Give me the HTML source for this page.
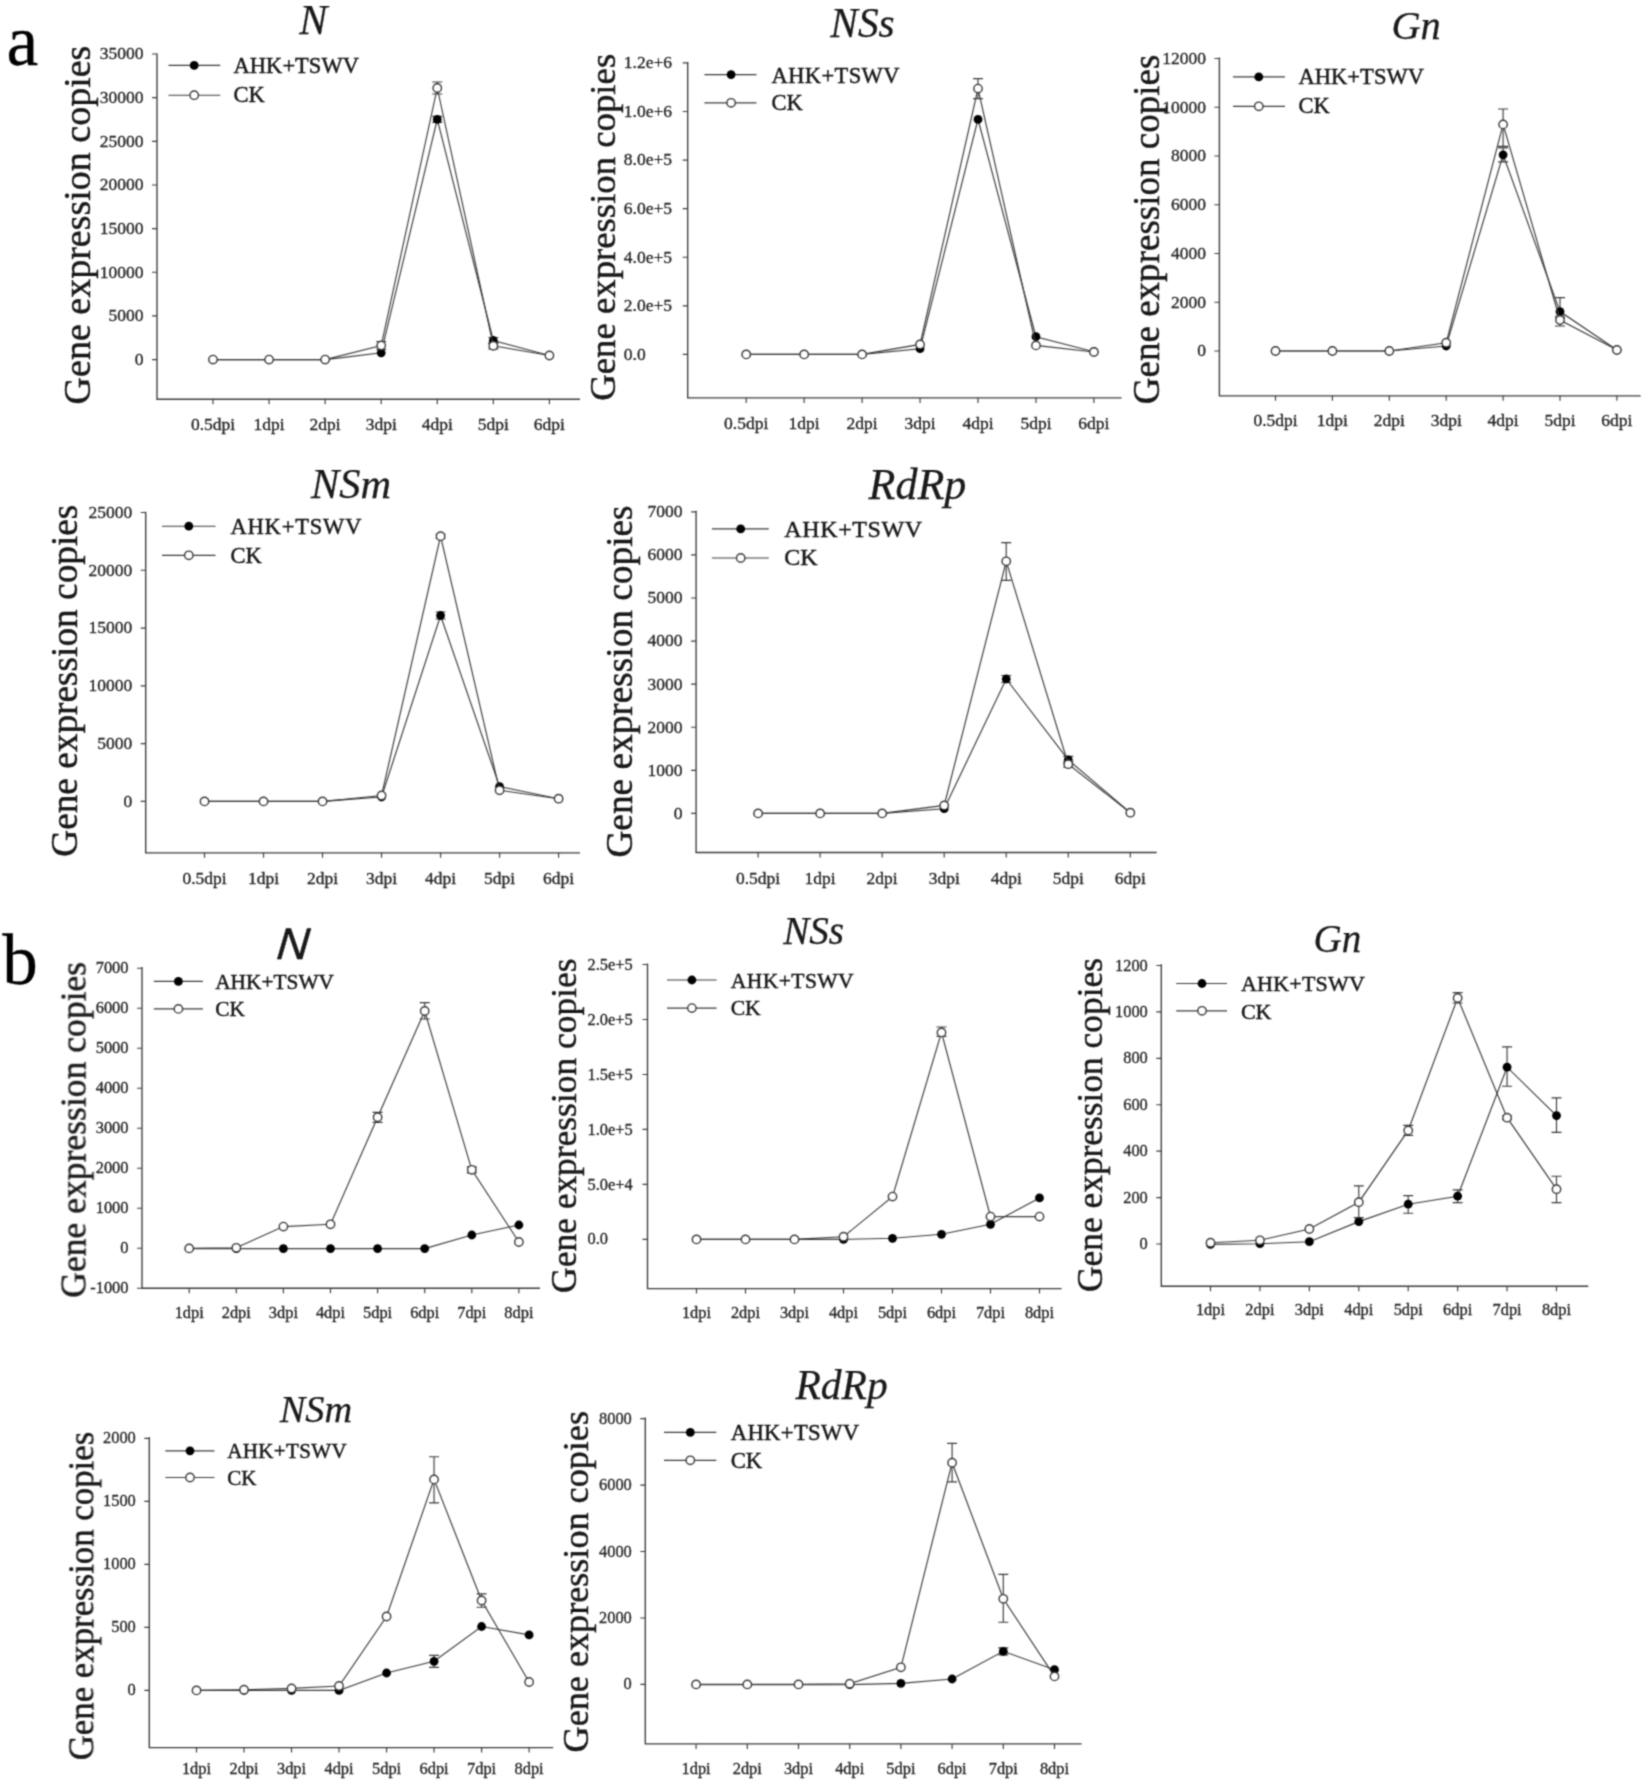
<!DOCTYPE html>
<html lang="en">
<head>
<meta charset="utf-8">
<title>Gene expression copies</title>
<style>
html,body{margin:0;padding:0;background:#fff;}
body{width:1645px;height:1783px;overflow:hidden;}
svg{display:block;font-family:"Liberation Serif",serif;}
</style>
</head>
<body>
<svg width="1645" height="1783" viewBox="0 0 1645 1783">
<rect x="0" y="0" width="1645" height="1783" fill="#fff"/>
<defs><filter id="soft" x="0" y="0" width="1645" height="1783" filterUnits="userSpaceOnUse" color-interpolation-filters="sRGB"><feConvolveMatrix order="3" kernelMatrix="0.0439 0.1217 0.0439 0.1217 0.3377 0.1217 0.0439 0.1217 0.0439" edgeMode="duplicate" preserveAlpha="false"/></filter></defs>
<g id="fig" filter="url(#soft)">
<text x="6.4" y="65.2" font-size="71.5" fill="#000" stroke="#000" stroke-width="0.3">a</text>
<text x="2.2" y="983.6" font-size="71" fill="#000" stroke="#000" stroke-width="0.3">b</text>

<g>
<path d="M157 53.6 V399.2 H580" fill="none" stroke="#3c3c3c" stroke-width="1.3499999999999999"/>
<path d="M157 54 H152 M157 97.66 H152 M157 141.31 H152 M157 184.97 H152 M157 228.63 H152 M157 272.29 H152 M157 315.94 H152 M157 359.6 H152 M213 399.2 V404.2 M269.07 399.2 V404.2 M325.13 399.2 V404.2 M381.2 399.2 V404.2 M437.27 399.2 V404.2 M493.33 399.2 V404.2 M549.4 399.2 V404.2" fill="none" stroke="#3c3c3c" stroke-width="1.15"/>
<g font-size="17.5" fill="#222222" stroke="#222222" stroke-width="0.3" text-anchor="end">
<text x="143.5" y="59.42">35000</text>
<text x="143.5" y="103.08">30000</text>
<text x="143.5" y="146.74">25000</text>
<text x="143.5" y="190.4">20000</text>
<text x="143.5" y="234.05">15000</text>
<text x="143.5" y="277.71">10000</text>
<text x="143.5" y="321.37">5000</text>
<text x="143.5" y="365.03">0</text>
</g>
<g font-size="17.5" fill="#222222" stroke="#222222" stroke-width="0.3" text-anchor="middle">
<text x="213" y="429.8">0.5dpi</text>
<text x="269.07" y="429.8">1dpi</text>
<text x="325.13" y="429.8">2dpi</text>
<text x="381.2" y="429.8">3dpi</text>
<text x="437.27" y="429.8">4dpi</text>
<text x="493.33" y="429.8">5dpi</text>
<text x="549.4" y="429.8">6dpi</text>
</g>
<text x="313.3" y="33.9" font-size="42" font-style="italic" text-anchor="middle" stroke="#000" stroke-width="0.25" fill="#1a1a1a" font-family='"Liberation Serif", serif'>N</text>
<text transform="translate(89.8 225) rotate(-90)" font-size="38" text-anchor="middle" stroke="#000" stroke-width="0.4" fill="#1a1a1a">Gene expression copies</text>
<path d="M168.5 65.4 H220.3 M168.5 95.2 H220.3" fill="none" stroke="#3c3c3c" stroke-width="1.15"/>
<circle cx="194.2" cy="65.4" r="4.4" fill="#000"/>
<circle cx="194.2" cy="95.2" r="4.2" fill="#fff" stroke="#3c3c3c" stroke-width="1.4"/>
<text x="233.6" y="73.1" font-size="22.5" stroke="#000" stroke-width="0.4" fill="#1a1a1a" textLength="125.3" lengthAdjust="spacing">AHK+TSWV</text>
<text x="233.6" y="102.3" font-size="22.5" stroke="#000" stroke-width="0.4" fill="#1a1a1a">CK</text>
<path d="M213 359.6 L269.07 359.6 L325.13 359.6 L381.2 352.8 L437.27 119.4 L493.33 340.5 L549.4 355.5" fill="none" stroke="#3c3c3c" stroke-width="1.15"/>
<path d="M437.27 116.4 V122.4 M432.27 116.4 H442.27 M432.27 122.4 H442.27" fill="none" stroke="#3c3c3c" stroke-width="1.15"/>
<path d="M493.33 337.5 V343.5 M488.33 337.5 H498.33 M488.33 343.5 H498.33" fill="none" stroke="#3c3c3c" stroke-width="1.15"/>
<circle cx="213" cy="359.6" r="4.4" fill="#000"/>
<circle cx="269.07" cy="359.6" r="4.4" fill="#000"/>
<circle cx="325.13" cy="359.6" r="4.4" fill="#000"/>
<circle cx="381.2" cy="352.8" r="4.4" fill="#000"/>
<circle cx="437.27" cy="119.4" r="4.4" fill="#000"/>
<circle cx="493.33" cy="340.5" r="4.4" fill="#000"/>
<circle cx="549.4" cy="355.5" r="4.4" fill="#000"/>
<path d="M213 359.6 L269.07 359.6 L325.13 359.6 L381.2 345.5 L437.27 88 L493.33 345.8 L549.4 355.5" fill="none" stroke="#3c3c3c" stroke-width="1.15"/>
<path d="M381.2 341.5 V349.5 M376.2 341.5 H386.2 M376.2 349.5 H386.2" fill="none" stroke="#3c3c3c" stroke-width="1.15"/>
<path d="M437.27 82 V94 M432.27 82 H442.27 M432.27 94 H442.27" fill="none" stroke="#3c3c3c" stroke-width="1.15"/>
<path d="M493.33 342.8 V348.8 M488.33 342.8 H498.33 M488.33 348.8 H498.33" fill="none" stroke="#3c3c3c" stroke-width="1.15"/>
<circle cx="213" cy="359.6" r="4.2" fill="#fff" stroke="#3c3c3c" stroke-width="1.4"/>
<circle cx="269.07" cy="359.6" r="4.2" fill="#fff" stroke="#3c3c3c" stroke-width="1.4"/>
<circle cx="325.13" cy="359.6" r="4.2" fill="#fff" stroke="#3c3c3c" stroke-width="1.4"/>
<circle cx="381.2" cy="345.5" r="4.2" fill="#fff" stroke="#3c3c3c" stroke-width="1.4"/>
<circle cx="437.27" cy="88" r="4.2" fill="#fff" stroke="#3c3c3c" stroke-width="1.4"/>
<circle cx="493.33" cy="345.8" r="4.2" fill="#fff" stroke="#3c3c3c" stroke-width="1.4"/>
<circle cx="549.4" cy="355.5" r="4.2" fill="#fff" stroke="#3c3c3c" stroke-width="1.4"/>
</g>
<g>
<path d="M687.7 61.9 V397.9 H1121.6" fill="none" stroke="#3c3c3c" stroke-width="1.3499999999999999"/>
<path d="M687.7 62.9 H682.7 M687.7 111.48 H682.7 M687.7 160.07 H682.7 M687.7 208.65 H682.7 M687.7 257.23 H682.7 M687.7 305.82 H682.7 M687.7 354.4 H682.7 M746.2 397.9 V402.9 M804.15 397.9 V402.9 M862.1 397.9 V402.9 M920.05 397.9 V402.9 M978 397.9 V402.9 M1035.95 397.9 V402.9 M1093.9 397.9 V402.9" fill="none" stroke="#3c3c3c" stroke-width="1.15"/>
<g font-size="17.5" fill="#222222" stroke="#222222" stroke-width="0.3" text-anchor="start">
<text x="623.8" y="68.33">1.2e+6</text>
<text x="623.8" y="116.91">1.0e+6</text>
<text x="623.8" y="165.49">8.0e+5</text>
<text x="623.8" y="214.08">6.0e+5</text>
<text x="623.8" y="262.66">4.0e+5</text>
<text x="623.8" y="311.24">2.0e+5</text>
<text x="623.8" y="359.82">0.0</text>
</g>
<g font-size="17.5" fill="#222222" stroke="#222222" stroke-width="0.3" text-anchor="middle">
<text x="746.2" y="428.5">0.5dpi</text>
<text x="804.15" y="428.5">1dpi</text>
<text x="862.1" y="428.5">2dpi</text>
<text x="920.05" y="428.5">3dpi</text>
<text x="978" y="428.5">4dpi</text>
<text x="1035.95" y="428.5">5dpi</text>
<text x="1093.9" y="428.5">6dpi</text>
</g>
<text x="862.5" y="37.2" font-size="41.3" font-style="italic" text-anchor="middle" stroke="#000" stroke-width="0.25" fill="#1a1a1a" font-family='"Liberation Serif", serif'>NSs</text>
<text transform="translate(614.6 227.3) rotate(-90)" font-size="36.75" text-anchor="middle" stroke="#000" stroke-width="0.4" fill="#1a1a1a">Gene expression copies</text>
<path d="M704.4 74.6 H756.5 M704.4 102.8 H756.5" fill="none" stroke="#3c3c3c" stroke-width="1.15"/>
<circle cx="731.1" cy="74.6" r="4.4" fill="#000"/>
<circle cx="731.1" cy="102.8" r="4.2" fill="#fff" stroke="#3c3c3c" stroke-width="1.4"/>
<text x="771.6" y="82.6" font-size="22.5" stroke="#000" stroke-width="0.4" fill="#1a1a1a" textLength="127.9" lengthAdjust="spacing">AHK+TSWV</text>
<text x="771.6" y="110.3" font-size="22.5" stroke="#000" stroke-width="0.4" fill="#1a1a1a">CK</text>
<path d="M746.2 354.4 L804.15 354.4 L862.1 354.4 L920.05 348.7 L978 119.4 L1035.95 336.7 L1093.9 351.7" fill="none" stroke="#3c3c3c" stroke-width="1.15"/>
<circle cx="746.2" cy="354.4" r="4.4" fill="#000"/>
<circle cx="804.15" cy="354.4" r="4.4" fill="#000"/>
<circle cx="862.1" cy="354.4" r="4.4" fill="#000"/>
<circle cx="920.05" cy="348.7" r="4.4" fill="#000"/>
<circle cx="978" cy="119.4" r="4.4" fill="#000"/>
<circle cx="1035.95" cy="336.7" r="4.4" fill="#000"/>
<circle cx="1093.9" cy="351.7" r="4.4" fill="#000"/>
<path d="M746.2 354.4 L804.15 354.4 L862.1 354.4 L920.05 344.4 L978 88.6 L1035.95 345.4 L1093.9 352" fill="none" stroke="#3c3c3c" stroke-width="1.15"/>
<path d="M978 78.6 V98.6 M973 78.6 H983 M973 98.6 H983" fill="none" stroke="#3c3c3c" stroke-width="1.15"/>
<circle cx="746.2" cy="354.4" r="4.2" fill="#fff" stroke="#3c3c3c" stroke-width="1.4"/>
<circle cx="804.15" cy="354.4" r="4.2" fill="#fff" stroke="#3c3c3c" stroke-width="1.4"/>
<circle cx="862.1" cy="354.4" r="4.2" fill="#fff" stroke="#3c3c3c" stroke-width="1.4"/>
<circle cx="920.05" cy="344.4" r="4.2" fill="#fff" stroke="#3c3c3c" stroke-width="1.4"/>
<circle cx="978" cy="88.6" r="4.2" fill="#fff" stroke="#3c3c3c" stroke-width="1.4"/>
<circle cx="1035.95" cy="345.4" r="4.2" fill="#fff" stroke="#3c3c3c" stroke-width="1.4"/>
<circle cx="1093.9" cy="352" r="4.2" fill="#fff" stroke="#3c3c3c" stroke-width="1.4"/>
</g>
<g>
<path d="M1219.4 57.5 V395.8 H1640.7" fill="none" stroke="#3c3c3c" stroke-width="1.3499999999999999"/>
<path d="M1219.4 58.5 H1214.4 M1219.4 107.25 H1214.4 M1219.4 156 H1214.4 M1219.4 204.75 H1214.4 M1219.4 253.5 H1214.4 M1219.4 302.25 H1214.4 M1219.4 351 H1214.4 M1275.5 395.8 V400.8 M1332.4 395.8 V400.8 M1389.3 395.8 V400.8 M1446.2 395.8 V400.8 M1503.1 395.8 V400.8 M1560 395.8 V400.8 M1616.9 395.8 V400.8" fill="none" stroke="#3c3c3c" stroke-width="1.15"/>
<g font-size="17.5" fill="#222222" stroke="#222222" stroke-width="0.3" text-anchor="end">
<text x="1205.9" y="63.92">12000</text>
<text x="1205.9" y="112.67">10000</text>
<text x="1205.9" y="161.43">8000</text>
<text x="1205.9" y="210.18">6000</text>
<text x="1205.9" y="258.93">4000</text>
<text x="1205.9" y="307.68">2000</text>
<text x="1205.9" y="356.43">0</text>
</g>
<g font-size="17.5" fill="#222222" stroke="#222222" stroke-width="0.3" text-anchor="middle">
<text x="1275.5" y="426">0.5dpi</text>
<text x="1332.4" y="426">1dpi</text>
<text x="1389.3" y="426">2dpi</text>
<text x="1446.2" y="426">3dpi</text>
<text x="1503.1" y="426">4dpi</text>
<text x="1560" y="426">5dpi</text>
<text x="1616.9" y="426">6dpi</text>
</g>
<text x="1416" y="39.2" font-size="40.3" font-style="italic" text-anchor="middle" stroke="#000" stroke-width="0.25" fill="#1a1a1a" font-family='"Liberation Serif", serif'>Gn</text>
<text transform="translate(1158.6 229.4) rotate(-90)" font-size="37.06" text-anchor="middle" stroke="#000" stroke-width="0.4" fill="#1a1a1a">Gene expression copies</text>
<path d="M1233 76.9 H1285 M1233 106.3 H1285" fill="none" stroke="#3c3c3c" stroke-width="1.15"/>
<circle cx="1258.8" cy="76.9" r="4.4" fill="#000"/>
<circle cx="1258.8" cy="106.3" r="4.2" fill="#fff" stroke="#3c3c3c" stroke-width="1.4"/>
<text x="1298.5" y="84" font-size="22.5" stroke="#000" stroke-width="0.4" fill="#1a1a1a" textLength="125.5" lengthAdjust="spacing">AHK+TSWV</text>
<text x="1298.5" y="113" font-size="22.5" stroke="#000" stroke-width="0.4" fill="#1a1a1a">CK</text>
<path d="M1275.5 351 L1332.4 351 L1389.3 351 L1446.2 346 L1503.1 154.8 L1560 311.6 L1616.9 350" fill="none" stroke="#3c3c3c" stroke-width="1.15"/>
<path d="M1503.1 147.8 V161.8 M1498.1 147.8 H1508.1 M1498.1 161.8 H1508.1" fill="none" stroke="#3c3c3c" stroke-width="1.15"/>
<path d="M1560 297.6 V317.6 M1555 297.6 H1565 M1555 317.6 H1565" fill="none" stroke="#3c3c3c" stroke-width="1.15"/>
<circle cx="1275.5" cy="351" r="4.4" fill="#000"/>
<circle cx="1332.4" cy="351" r="4.4" fill="#000"/>
<circle cx="1389.3" cy="351" r="4.4" fill="#000"/>
<circle cx="1446.2" cy="346" r="4.4" fill="#000"/>
<circle cx="1503.1" cy="154.8" r="4.4" fill="#000"/>
<circle cx="1560" cy="311.6" r="4.4" fill="#000"/>
<circle cx="1616.9" cy="350" r="4.4" fill="#000"/>
<path d="M1275.5 351 L1332.4 351 L1389.3 351 L1446.2 342.7 L1503.1 124.4 L1560 320 L1616.9 350" fill="none" stroke="#3c3c3c" stroke-width="1.15"/>
<path d="M1503.1 109 V146.4 M1498.1 109 H1508.1 M1498.1 146.4 H1508.1" fill="none" stroke="#3c3c3c" stroke-width="1.15"/>
<path d="M1560 316 V326 M1555 316 H1565 M1555 326 H1565" fill="none" stroke="#3c3c3c" stroke-width="1.15"/>
<circle cx="1275.5" cy="351" r="4.2" fill="#fff" stroke="#3c3c3c" stroke-width="1.4"/>
<circle cx="1332.4" cy="351" r="4.2" fill="#fff" stroke="#3c3c3c" stroke-width="1.4"/>
<circle cx="1389.3" cy="351" r="4.2" fill="#fff" stroke="#3c3c3c" stroke-width="1.4"/>
<circle cx="1446.2" cy="342.7" r="4.2" fill="#fff" stroke="#3c3c3c" stroke-width="1.4"/>
<circle cx="1503.1" cy="124.4" r="4.2" fill="#fff" stroke="#3c3c3c" stroke-width="1.4"/>
<circle cx="1560" cy="320" r="4.2" fill="#fff" stroke="#3c3c3c" stroke-width="1.4"/>
<circle cx="1616.9" cy="350" r="4.2" fill="#fff" stroke="#3c3c3c" stroke-width="1.4"/>
</g>
<g>
<path d="M145.7 511.8 V852.8 H580" fill="none" stroke="#3c3c3c" stroke-width="1.3499999999999999"/>
<path d="M145.7 512.5 H140.7 M145.7 570.28 H140.7 M145.7 628.06 H140.7 M145.7 685.84 H140.7 M145.7 743.62 H140.7 M145.7 801.4 H140.7 M204.5 852.8 V857.8 M263.52 852.8 V857.8 M322.53 852.8 V857.8 M381.55 852.8 V857.8 M440.57 852.8 V857.8 M499.58 852.8 V857.8 M558.6 852.8 V857.8" fill="none" stroke="#3c3c3c" stroke-width="1.15"/>
<g font-size="17.5" fill="#222222" stroke="#222222" stroke-width="0.3" text-anchor="end">
<text x="132.2" y="517.92">25000</text>
<text x="132.2" y="575.7">20000</text>
<text x="132.2" y="633.48">15000</text>
<text x="132.2" y="691.26">10000</text>
<text x="132.2" y="749.04">5000</text>
<text x="132.2" y="806.82">0</text>
</g>
<g font-size="17.5" fill="#222222" stroke="#222222" stroke-width="0.3" text-anchor="middle">
<text x="204.5" y="884">0.5dpi</text>
<text x="263.52" y="884">1dpi</text>
<text x="322.53" y="884">2dpi</text>
<text x="381.55" y="884">3dpi</text>
<text x="440.57" y="884">4dpi</text>
<text x="499.58" y="884">5dpi</text>
<text x="558.6" y="884">6dpi</text>
</g>
<text x="351" y="498.4" font-size="42.3" font-style="italic" text-anchor="middle" stroke="#000" stroke-width="0.25" fill="#1a1a1a" font-family='"Liberation Serif", serif'>NSm</text>
<text transform="translate(76.6 680.7) rotate(-90)" font-size="37.3" text-anchor="middle" stroke="#000" stroke-width="0.4" fill="#1a1a1a">Gene expression copies</text>
<path d="M162 526.2 H215.5 M162 555.3 H215.5" fill="none" stroke="#3c3c3c" stroke-width="1.15"/>
<circle cx="188.8" cy="526.2" r="4.4" fill="#000"/>
<circle cx="188.8" cy="555.3" r="4.2" fill="#fff" stroke="#3c3c3c" stroke-width="1.4"/>
<text x="230.4" y="533.8" font-size="22.5" stroke="#000" stroke-width="0.4" fill="#1a1a1a" textLength="131" lengthAdjust="spacing">AHK+TSWV</text>
<text x="230.4" y="563" font-size="22.5" stroke="#000" stroke-width="0.4" fill="#1a1a1a">CK</text>
<path d="M204.5 801.4 L263.52 801.4 L322.53 801.4 L381.55 797 L440.57 615.5 L499.58 786.6 L558.6 798.7" fill="none" stroke="#3c3c3c" stroke-width="1.15"/>
<path d="M440.57 612 V619 M435.57 612 H445.57 M435.57 619 H445.57" fill="none" stroke="#3c3c3c" stroke-width="1.15"/>
<circle cx="204.5" cy="801.4" r="4.4" fill="#000"/>
<circle cx="263.52" cy="801.4" r="4.4" fill="#000"/>
<circle cx="322.53" cy="801.4" r="4.4" fill="#000"/>
<circle cx="381.55" cy="797" r="4.4" fill="#000"/>
<circle cx="440.57" cy="615.5" r="4.4" fill="#000"/>
<circle cx="499.58" cy="786.6" r="4.4" fill="#000"/>
<circle cx="558.6" cy="798.7" r="4.4" fill="#000"/>
<path d="M204.5 801.4 L263.52 801.4 L322.53 801.4 L381.55 795.5 L440.57 536.2 L499.58 790.3 L558.6 798.7" fill="none" stroke="#3c3c3c" stroke-width="1.15"/>
<path d="M440.57 534.2 V538.2 M435.57 534.2 H445.57 M435.57 538.2 H445.57" fill="none" stroke="#3c3c3c" stroke-width="1.15"/>
<circle cx="204.5" cy="801.4" r="4.2" fill="#fff" stroke="#3c3c3c" stroke-width="1.4"/>
<circle cx="263.52" cy="801.4" r="4.2" fill="#fff" stroke="#3c3c3c" stroke-width="1.4"/>
<circle cx="322.53" cy="801.4" r="4.2" fill="#fff" stroke="#3c3c3c" stroke-width="1.4"/>
<circle cx="381.55" cy="795.5" r="4.2" fill="#fff" stroke="#3c3c3c" stroke-width="1.4"/>
<circle cx="440.57" cy="536.2" r="4.2" fill="#fff" stroke="#3c3c3c" stroke-width="1.4"/>
<circle cx="499.58" cy="790.3" r="4.2" fill="#fff" stroke="#3c3c3c" stroke-width="1.4"/>
<circle cx="558.6" cy="798.7" r="4.2" fill="#fff" stroke="#3c3c3c" stroke-width="1.4"/>
</g>
<g>
<path d="M696.1 510.8 V852.5 H1156.7" fill="none" stroke="#3c3c3c" stroke-width="1.3499999999999999"/>
<path d="M696.1 511.8 H691.1 M696.1 554.89 H691.1 M696.1 597.97 H691.1 M696.1 641.06 H691.1 M696.1 684.14 H691.1 M696.1 727.23 H691.1 M696.1 770.31 H691.1 M696.1 813.4 H691.1 M758.1 852.5 V857.5 M820.13 852.5 V857.5 M882.17 852.5 V857.5 M944.2 852.5 V857.5 M1006.23 852.5 V857.5 M1068.27 852.5 V857.5 M1130.3 852.5 V857.5" fill="none" stroke="#3c3c3c" stroke-width="1.15"/>
<g font-size="17.5" fill="#222222" stroke="#222222" stroke-width="0.3" text-anchor="end">
<text x="682.6" y="517.23">7000</text>
<text x="682.6" y="560.31">6000</text>
<text x="682.6" y="603.4">5000</text>
<text x="682.6" y="646.48">4000</text>
<text x="682.6" y="689.57">3000</text>
<text x="682.6" y="732.65">2000</text>
<text x="682.6" y="775.74">1000</text>
<text x="682.6" y="818.82">0</text>
</g>
<g font-size="17.5" fill="#222222" stroke="#222222" stroke-width="0.3" text-anchor="middle">
<text x="758.1" y="884">0.5dpi</text>
<text x="820.13" y="884">1dpi</text>
<text x="882.17" y="884">2dpi</text>
<text x="944.2" y="884">3dpi</text>
<text x="1006.23" y="884">4dpi</text>
<text x="1068.27" y="884">5dpi</text>
<text x="1130.3" y="884">6dpi</text>
</g>
<text x="917.5" y="498.8" font-size="44" font-style="italic" text-anchor="middle" stroke="#000" stroke-width="0.25" fill="#1a1a1a" font-family='"Liberation Serif", serif'>RdRp</text>
<text transform="translate(631.6 681.5) rotate(-90)" font-size="37.3" text-anchor="middle" stroke="#000" stroke-width="0.4" fill="#1a1a1a">Gene expression copies</text>
<path d="M711.9 528.9 H768.8 M711.9 558 H768.8" fill="none" stroke="#3c3c3c" stroke-width="1.15"/>
<circle cx="740.7" cy="528.9" r="4.4" fill="#000"/>
<circle cx="740.7" cy="558" r="4.2" fill="#fff" stroke="#3c3c3c" stroke-width="1.4"/>
<text x="784.3" y="537.1" font-size="24" stroke="#000" stroke-width="0.4" fill="#1a1a1a" textLength="137.9" lengthAdjust="spacing">AHK+TSWV</text>
<text x="784.3" y="565.3" font-size="24" stroke="#000" stroke-width="0.4" fill="#1a1a1a">CK</text>
<path d="M758.1 813.4 L820.13 813.4 L882.17 813.4 L944.2 808.7 L1006.23 679 L1068.27 759.9 L1130.3 812.7" fill="none" stroke="#3c3c3c" stroke-width="1.15"/>
<path d="M1006.23 675.5 V682.5 M1001.23 675.5 H1011.23 M1001.23 682.5 H1011.23" fill="none" stroke="#3c3c3c" stroke-width="1.15"/>
<path d="M1068.27 756.4 V763.4 M1063.27 756.4 H1073.27 M1063.27 763.4 H1073.27" fill="none" stroke="#3c3c3c" stroke-width="1.15"/>
<circle cx="758.1" cy="813.4" r="4.4" fill="#000"/>
<circle cx="820.13" cy="813.4" r="4.4" fill="#000"/>
<circle cx="882.17" cy="813.4" r="4.4" fill="#000"/>
<circle cx="944.2" cy="808.7" r="4.4" fill="#000"/>
<circle cx="1006.23" cy="679" r="4.4" fill="#000"/>
<circle cx="1068.27" cy="759.9" r="4.4" fill="#000"/>
<circle cx="1130.3" cy="812.7" r="4.4" fill="#000"/>
<path d="M758.1 813.4 L820.13 813.4 L882.17 813.4 L944.2 805.4 L1006.23 561.3 L1068.27 764.2 L1130.3 812.7" fill="none" stroke="#3c3c3c" stroke-width="1.15"/>
<path d="M1006.23 542.6 V580.3 M1001.23 542.6 H1011.23 M1001.23 580.3 H1011.23" fill="none" stroke="#3c3c3c" stroke-width="1.15"/>
<path d="M1068.27 761.2 V767.2 M1063.27 761.2 H1073.27 M1063.27 767.2 H1073.27" fill="none" stroke="#3c3c3c" stroke-width="1.15"/>
<circle cx="758.1" cy="813.4" r="4.2" fill="#fff" stroke="#3c3c3c" stroke-width="1.4"/>
<circle cx="820.13" cy="813.4" r="4.2" fill="#fff" stroke="#3c3c3c" stroke-width="1.4"/>
<circle cx="882.17" cy="813.4" r="4.2" fill="#fff" stroke="#3c3c3c" stroke-width="1.4"/>
<circle cx="944.2" cy="805.4" r="4.2" fill="#fff" stroke="#3c3c3c" stroke-width="1.4"/>
<circle cx="1006.23" cy="561.3" r="4.2" fill="#fff" stroke="#3c3c3c" stroke-width="1.4"/>
<circle cx="1068.27" cy="764.2" r="4.2" fill="#fff" stroke="#3c3c3c" stroke-width="1.4"/>
<circle cx="1130.3" cy="812.7" r="4.2" fill="#fff" stroke="#3c3c3c" stroke-width="1.4"/>
</g>
<g>
<path d="M142 966.9 V1288.2 H540" fill="none" stroke="#3c3c3c" stroke-width="1.3499999999999999"/>
<path d="M142 968.2 H137 M142 1008.2 H137 M142 1048.2 H137 M142 1088.2 H137 M142 1128.2 H137 M142 1168.2 H137 M142 1208.2 H137 M142 1248.2 H137 M142 1288.2 H137 M189.2 1288.2 V1293.2 M236.3 1288.2 V1293.2 M283.4 1288.2 V1293.2 M330.5 1288.2 V1293.2 M377.6 1288.2 V1293.2 M424.7 1288.2 V1293.2 M471.8 1288.2 V1293.2 M518.9 1288.2 V1293.2" fill="none" stroke="#3c3c3c" stroke-width="1.15"/>
<g font-size="16.4" fill="#222222" stroke="#222222" stroke-width="0.3" text-anchor="end">
<text x="128.5" y="973.28">7000</text>
<text x="128.5" y="1013.28">6000</text>
<text x="128.5" y="1053.28">5000</text>
<text x="128.5" y="1093.28">4000</text>
<text x="128.5" y="1133.28">3000</text>
<text x="128.5" y="1173.28">2000</text>
<text x="128.5" y="1213.28">1000</text>
<text x="128.5" y="1253.28">0</text>
<text x="128.5" y="1293.28">-1000</text>
</g>
<g font-size="16.4" fill="#222222" stroke="#222222" stroke-width="0.3" text-anchor="middle">
<text x="189.2" y="1318">1dpi</text>
<text x="236.3" y="1318">2dpi</text>
<text x="283.4" y="1318">3dpi</text>
<text x="330.5" y="1318">4dpi</text>
<text x="377.6" y="1318">5dpi</text>
<text x="424.7" y="1318">6dpi</text>
<text x="471.8" y="1318">7dpi</text>
<text x="518.9" y="1318">8dpi</text>
</g>
<text transform="translate(291.9 959.3) skewX(-5.5)" x="0" y="0" font-size="44.3" font-style="italic" text-anchor="middle" stroke="#000" stroke-width="0.5" fill="#1a1a1a" font-family='"Liberation Sans", sans-serif'>N</text>
<text transform="translate(85.5 1129.8) rotate(-90)" font-size="35.6" text-anchor="middle" stroke="#000" stroke-width="0.4" fill="#1a1a1a">Gene expression copies</text>
<path d="M153.8 981.4 H202.9 M153.8 1008.9 H202.9" fill="none" stroke="#3c3c3c" stroke-width="1.15"/>
<circle cx="178.4" cy="981.4" r="4.4" fill="#000"/>
<circle cx="178.4" cy="1008.9" r="4.2" fill="#fff" stroke="#3c3c3c" stroke-width="1.4"/>
<text x="215.2" y="989" font-size="21.3" stroke="#000" stroke-width="0.4" fill="#1a1a1a" textLength="118.8" lengthAdjust="spacing">AHK+TSWV</text>
<text x="215.2" y="1015.9" font-size="21.3" stroke="#000" stroke-width="0.4" fill="#1a1a1a">CK</text>
<path d="M189.2 1248.6 L236.3 1248.6 L283.4 1248.6 L330.5 1248.6 L377.6 1248.6 L424.7 1248.6 L471.8 1235 L518.9 1225" fill="none" stroke="#3c3c3c" stroke-width="1.15"/>
<circle cx="189.2" cy="1248.6" r="4.4" fill="#000"/>
<circle cx="236.3" cy="1248.6" r="4.4" fill="#000"/>
<circle cx="283.4" cy="1248.6" r="4.4" fill="#000"/>
<circle cx="330.5" cy="1248.6" r="4.4" fill="#000"/>
<circle cx="377.6" cy="1248.6" r="4.4" fill="#000"/>
<circle cx="424.7" cy="1248.6" r="4.4" fill="#000"/>
<circle cx="471.8" cy="1235" r="4.4" fill="#000"/>
<circle cx="518.9" cy="1225" r="4.4" fill="#000"/>
<path d="M189.2 1248.4 L236.3 1247.8 L283.4 1226.6 L330.5 1224.3 L377.6 1117.3 L424.7 1011 L471.8 1169.8 L518.9 1242" fill="none" stroke="#3c3c3c" stroke-width="1.15"/>
<path d="M377.6 1112.3 V1122.3 M372.6 1112.3 H382.6 M372.6 1122.3 H382.6" fill="none" stroke="#3c3c3c" stroke-width="1.15"/>
<path d="M424.7 1002.6 V1019 M419.7 1002.6 H429.7 M419.7 1019 H429.7" fill="none" stroke="#3c3c3c" stroke-width="1.15"/>
<path d="M471.8 1166.8 V1172.8 M466.8 1166.8 H476.8 M466.8 1172.8 H476.8" fill="none" stroke="#3c3c3c" stroke-width="1.15"/>
<circle cx="189.2" cy="1248.4" r="4.2" fill="#fff" stroke="#3c3c3c" stroke-width="1.4"/>
<circle cx="236.3" cy="1247.8" r="4.2" fill="#fff" stroke="#3c3c3c" stroke-width="1.4"/>
<circle cx="283.4" cy="1226.6" r="4.2" fill="#fff" stroke="#3c3c3c" stroke-width="1.4"/>
<circle cx="330.5" cy="1224.3" r="4.2" fill="#fff" stroke="#3c3c3c" stroke-width="1.4"/>
<circle cx="377.6" cy="1117.3" r="4.2" fill="#fff" stroke="#3c3c3c" stroke-width="1.4"/>
<circle cx="424.7" cy="1011" r="4.2" fill="#fff" stroke="#3c3c3c" stroke-width="1.4"/>
<circle cx="471.8" cy="1169.8" r="4.2" fill="#fff" stroke="#3c3c3c" stroke-width="1.4"/>
<circle cx="518.9" cy="1242" r="4.2" fill="#fff" stroke="#3c3c3c" stroke-width="1.4"/>
</g>
<g>
<path d="M647.5 963.5 V1288.6 H1061.6" fill="none" stroke="#3c3c3c" stroke-width="1.3499999999999999"/>
<path d="M647.5 964.5 H642.5 M647.5 1019.48 H642.5 M647.5 1074.46 H642.5 M647.5 1129.44 H642.5 M647.5 1184.42 H642.5 M647.5 1239.4 H642.5 M696.5 1288.6 V1293.6 M745.5 1288.6 V1293.6 M794.5 1288.6 V1293.6 M843.5 1288.6 V1293.6 M892.5 1288.6 V1293.6 M941.5 1288.6 V1293.6 M990.5 1288.6 V1293.6 M1039.5 1288.6 V1293.6" fill="none" stroke="#3c3c3c" stroke-width="1.15"/>
<g font-size="16.4" fill="#222222" stroke="#222222" stroke-width="0.3" text-anchor="start">
<text x="587.5" y="969.58">2.5e+5</text>
<text x="587.5" y="1024.56">2.0e+5</text>
<text x="587.5" y="1079.54">1.5e+5</text>
<text x="587.5" y="1134.52">1.0e+5</text>
<text x="587.5" y="1189.5">5.0e+4</text>
<text x="587.5" y="1244.48">0.0</text>
</g>
<g font-size="16.4" fill="#222222" stroke="#222222" stroke-width="0.3" text-anchor="middle">
<text x="696.5" y="1318">1dpi</text>
<text x="745.5" y="1318">2dpi</text>
<text x="794.5" y="1318">3dpi</text>
<text x="843.5" y="1318">4dpi</text>
<text x="892.5" y="1318">5dpi</text>
<text x="941.5" y="1318">6dpi</text>
<text x="990.5" y="1318">7dpi</text>
<text x="1039.5" y="1318">8dpi</text>
</g>
<text x="813.7" y="944.3" font-size="39" font-style="italic" text-anchor="middle" stroke="#000" stroke-width="0.25" fill="#1a1a1a" font-family='"Liberation Serif", serif'>NSs</text>
<text transform="translate(576 1125.7) rotate(-90)" font-size="35.44" text-anchor="middle" stroke="#000" stroke-width="0.4" fill="#1a1a1a">Gene expression copies</text>
<path d="M667 980 H716.6 M667 1008.1 H716.6" fill="none" stroke="#3c3c3c" stroke-width="1.15"/>
<circle cx="691.9" cy="980" r="4.4" fill="#000"/>
<circle cx="691.9" cy="1008.1" r="4.2" fill="#fff" stroke="#3c3c3c" stroke-width="1.4"/>
<text x="730.7" y="987.5" font-size="21.6" stroke="#000" stroke-width="0.4" fill="#1a1a1a" textLength="123" lengthAdjust="spacing">AHK+TSWV</text>
<text x="730.7" y="1015.4" font-size="21.6" stroke="#000" stroke-width="0.4" fill="#1a1a1a">CK</text>
<path d="M696.5 1239.4 L745.5 1239.4 L794.5 1239.4 L843.5 1239.4 L892.5 1238.3 L941.5 1234.3 L990.5 1224.3 L1039.5 1197.9" fill="none" stroke="#3c3c3c" stroke-width="1.15"/>
<circle cx="696.5" cy="1239.4" r="4.4" fill="#000"/>
<circle cx="745.5" cy="1239.4" r="4.4" fill="#000"/>
<circle cx="794.5" cy="1239.4" r="4.4" fill="#000"/>
<circle cx="843.5" cy="1239.4" r="4.4" fill="#000"/>
<circle cx="892.5" cy="1238.3" r="4.4" fill="#000"/>
<circle cx="941.5" cy="1234.3" r="4.4" fill="#000"/>
<circle cx="990.5" cy="1224.3" r="4.4" fill="#000"/>
<circle cx="1039.5" cy="1197.9" r="4.4" fill="#000"/>
<path d="M696.5 1239.4 L745.5 1239.4 L794.5 1239.4 L843.5 1236.7 L892.5 1196.6 L941.5 1032.4 L990.5 1216.6 L1039.5 1216.6" fill="none" stroke="#3c3c3c" stroke-width="1.15"/>
<path d="M941.5 1027 V1036.4 M936.5 1027 H946.5 M936.5 1036.4 H946.5" fill="none" stroke="#3c3c3c" stroke-width="1.15"/>
<circle cx="696.5" cy="1239.4" r="4.2" fill="#fff" stroke="#3c3c3c" stroke-width="1.4"/>
<circle cx="745.5" cy="1239.4" r="4.2" fill="#fff" stroke="#3c3c3c" stroke-width="1.4"/>
<circle cx="794.5" cy="1239.4" r="4.2" fill="#fff" stroke="#3c3c3c" stroke-width="1.4"/>
<circle cx="843.5" cy="1236.7" r="4.2" fill="#fff" stroke="#3c3c3c" stroke-width="1.4"/>
<circle cx="892.5" cy="1196.6" r="4.2" fill="#fff" stroke="#3c3c3c" stroke-width="1.4"/>
<circle cx="941.5" cy="1032.4" r="4.2" fill="#fff" stroke="#3c3c3c" stroke-width="1.4"/>
<circle cx="990.5" cy="1216.6" r="4.2" fill="#fff" stroke="#3c3c3c" stroke-width="1.4"/>
<circle cx="1039.5" cy="1216.6" r="4.2" fill="#fff" stroke="#3c3c3c" stroke-width="1.4"/>
</g>
<g>
<path d="M1161.3 964.2 V1286.2 H1588.3" fill="none" stroke="#3c3c3c" stroke-width="1.3499999999999999"/>
<path d="M1161.3 965.5 H1156.3 M1161.3 1011.92 H1156.3 M1161.3 1058.33 H1156.3 M1161.3 1104.75 H1156.3 M1161.3 1151.17 H1156.3 M1161.3 1197.58 H1156.3 M1161.3 1244 H1156.3 M1210.5 1286.2 V1291.2 M1259.93 1286.2 V1291.2 M1309.36 1286.2 V1291.2 M1358.79 1286.2 V1291.2 M1408.21 1286.2 V1291.2 M1457.64 1286.2 V1291.2 M1507.07 1286.2 V1291.2 M1556.5 1286.2 V1291.2" fill="none" stroke="#3c3c3c" stroke-width="1.15"/>
<g font-size="16.4" fill="#222222" stroke="#222222" stroke-width="0.3" text-anchor="end">
<text x="1147.8" y="970.58">1200</text>
<text x="1147.8" y="1017">1000</text>
<text x="1147.8" y="1063.42">800</text>
<text x="1147.8" y="1109.83">600</text>
<text x="1147.8" y="1156.25">400</text>
<text x="1147.8" y="1202.67">200</text>
<text x="1147.8" y="1249.08">0</text>
</g>
<g font-size="16.4" fill="#222222" stroke="#222222" stroke-width="0.3" text-anchor="middle">
<text x="1210.5" y="1314.6">1dpi</text>
<text x="1259.93" y="1314.6">2dpi</text>
<text x="1309.36" y="1314.6">3dpi</text>
<text x="1358.79" y="1314.6">4dpi</text>
<text x="1408.21" y="1314.6">5dpi</text>
<text x="1457.64" y="1314.6">6dpi</text>
<text x="1507.07" y="1314.6">7dpi</text>
<text x="1556.5" y="1314.6">8dpi</text>
</g>
<text x="1337.4" y="951.6" font-size="39" font-style="italic" text-anchor="middle" stroke="#000" stroke-width="0.25" fill="#1a1a1a" font-family='"Liberation Serif", serif'>Gn</text>
<text transform="translate(1102.1 1125) rotate(-90)" font-size="35.37" text-anchor="middle" stroke="#000" stroke-width="0.4" fill="#1a1a1a">Gene expression copies</text>
<path d="M1176.2 983.5 H1227 M1176.2 1010.8 H1227" fill="none" stroke="#3c3c3c" stroke-width="1.15"/>
<circle cx="1202" cy="983.5" r="4.4" fill="#000"/>
<circle cx="1202" cy="1010.8" r="4.2" fill="#fff" stroke="#3c3c3c" stroke-width="1.4"/>
<text x="1240.9" y="990.7" font-size="22" stroke="#000" stroke-width="0.4" fill="#1a1a1a" textLength="124.1" lengthAdjust="spacing">AHK+TSWV</text>
<text x="1240.9" y="1018.5" font-size="22" stroke="#000" stroke-width="0.4" fill="#1a1a1a">CK</text>
<path d="M1210.5 1244.4 L1259.93 1243.7 L1309.36 1241.7 L1358.79 1221.6 L1408.21 1204.2 L1457.64 1196.2 L1507.07 1067.2 L1556.5 1115.6" fill="none" stroke="#3c3c3c" stroke-width="1.15"/>
<path d="M1408.21 1195.6 V1213.2 M1403.21 1195.6 H1413.21 M1403.21 1213.2 H1413.21" fill="none" stroke="#3c3c3c" stroke-width="1.15"/>
<path d="M1457.64 1189.9 V1202.6 M1452.64 1189.9 H1462.64 M1452.64 1202.6 H1462.64" fill="none" stroke="#3c3c3c" stroke-width="1.15"/>
<path d="M1507.07 1046.8 V1086.2 M1502.07 1046.8 H1512.07 M1502.07 1086.2 H1512.07" fill="none" stroke="#3c3c3c" stroke-width="1.15"/>
<path d="M1556.5 1097.9 V1132.4 M1551.5 1097.9 H1561.5 M1551.5 1132.4 H1561.5" fill="none" stroke="#3c3c3c" stroke-width="1.15"/>
<circle cx="1210.5" cy="1244.4" r="4.4" fill="#000"/>
<circle cx="1259.93" cy="1243.7" r="4.4" fill="#000"/>
<circle cx="1309.36" cy="1241.7" r="4.4" fill="#000"/>
<circle cx="1358.79" cy="1221.6" r="4.4" fill="#000"/>
<circle cx="1408.21" cy="1204.2" r="4.4" fill="#000"/>
<circle cx="1457.64" cy="1196.2" r="4.4" fill="#000"/>
<circle cx="1507.07" cy="1067.2" r="4.4" fill="#000"/>
<circle cx="1556.5" cy="1115.6" r="4.4" fill="#000"/>
<path d="M1210.5 1242.7 L1259.93 1240.3 L1309.36 1229 L1358.79 1202.2 L1408.21 1130.4 L1457.64 998 L1507.07 1117.7 L1556.5 1189.2" fill="none" stroke="#3c3c3c" stroke-width="1.15"/>
<path d="M1358.79 1185.9 V1217.6 M1353.79 1185.9 H1363.79 M1353.79 1217.6 H1363.79" fill="none" stroke="#3c3c3c" stroke-width="1.15"/>
<path d="M1408.21 1125.4 V1135.4 M1403.21 1125.4 H1413.21 M1403.21 1135.4 H1413.21" fill="none" stroke="#3c3c3c" stroke-width="1.15"/>
<path d="M1457.64 992.6 V1003 M1452.64 992.6 H1462.64 M1452.64 1003 H1462.64" fill="none" stroke="#3c3c3c" stroke-width="1.15"/>
<path d="M1507.07 1115.7 V1119.7 M1502.07 1115.7 H1512.07 M1502.07 1119.7 H1512.07" fill="none" stroke="#3c3c3c" stroke-width="1.15"/>
<path d="M1556.5 1176.2 V1202.6 M1551.5 1176.2 H1561.5 M1551.5 1202.6 H1561.5" fill="none" stroke="#3c3c3c" stroke-width="1.15"/>
<circle cx="1210.5" cy="1242.7" r="4.2" fill="#fff" stroke="#3c3c3c" stroke-width="1.4"/>
<circle cx="1259.93" cy="1240.3" r="4.2" fill="#fff" stroke="#3c3c3c" stroke-width="1.4"/>
<circle cx="1309.36" cy="1229" r="4.2" fill="#fff" stroke="#3c3c3c" stroke-width="1.4"/>
<circle cx="1358.79" cy="1202.2" r="4.2" fill="#fff" stroke="#3c3c3c" stroke-width="1.4"/>
<circle cx="1408.21" cy="1130.4" r="4.2" fill="#fff" stroke="#3c3c3c" stroke-width="1.4"/>
<circle cx="1457.64" cy="998" r="4.2" fill="#fff" stroke="#3c3c3c" stroke-width="1.4"/>
<circle cx="1507.07" cy="1117.7" r="4.2" fill="#fff" stroke="#3c3c3c" stroke-width="1.4"/>
<circle cx="1556.5" cy="1189.2" r="4.2" fill="#fff" stroke="#3c3c3c" stroke-width="1.4"/>
</g>
<g>
<path d="M149.3 1437.3 V1747.6 H553.2" fill="none" stroke="#3c3c3c" stroke-width="1.3499999999999999"/>
<path d="M149.3 1438.3 H144.3 M149.3 1501.33 H144.3 M149.3 1564.35 H144.3 M149.3 1627.38 H144.3 M149.3 1690.4 H144.3 M196.5 1747.6 V1752.6 M244.01 1747.6 V1752.6 M291.53 1747.6 V1752.6 M339.04 1747.6 V1752.6 M386.56 1747.6 V1752.6 M434.07 1747.6 V1752.6 M481.59 1747.6 V1752.6 M529.1 1747.6 V1752.6" fill="none" stroke="#3c3c3c" stroke-width="1.15"/>
<g font-size="16.4" fill="#222222" stroke="#222222" stroke-width="0.3" text-anchor="end">
<text x="135.8" y="1443.38">2000</text>
<text x="135.8" y="1506.41">1500</text>
<text x="135.8" y="1569.43">1000</text>
<text x="135.8" y="1632.46">500</text>
<text x="135.8" y="1695.48">0</text>
</g>
<g font-size="16.4" fill="#222222" stroke="#222222" stroke-width="0.3" text-anchor="middle">
<text x="196.5" y="1774.3">1dpi</text>
<text x="244.01" y="1774.3">2dpi</text>
<text x="291.53" y="1774.3">3dpi</text>
<text x="339.04" y="1774.3">4dpi</text>
<text x="386.56" y="1774.3">5dpi</text>
<text x="434.07" y="1774.3">6dpi</text>
<text x="481.59" y="1774.3">7dpi</text>
<text x="529.1" y="1774.3">8dpi</text>
</g>
<text x="316" y="1421.6" font-size="38.3" font-style="italic" text-anchor="middle" stroke="#000" stroke-width="0.25" fill="#1a1a1a" font-family='"Liberation Serif", serif'>NSm</text>
<text transform="translate(93.3 1596) rotate(-90)" font-size="34.8" text-anchor="middle" stroke="#000" stroke-width="0.4" fill="#1a1a1a">Gene expression copies</text>
<path d="M165.3 1450.8 H214.5 M165.3 1477.5 H214.5" fill="none" stroke="#3c3c3c" stroke-width="1.15"/>
<circle cx="190" cy="1450.8" r="4.4" fill="#000"/>
<circle cx="190" cy="1477.5" r="4.2" fill="#fff" stroke="#3c3c3c" stroke-width="1.4"/>
<text x="227.2" y="1458.2" font-size="21" stroke="#000" stroke-width="0.4" fill="#1a1a1a" textLength="119.5" lengthAdjust="spacing">AHK+TSWV</text>
<text x="227.2" y="1484.5" font-size="21" stroke="#000" stroke-width="0.4" fill="#1a1a1a">CK</text>
<path d="M196.5 1690.4 L244.01 1690.4 L291.53 1690.4 L339.04 1690.4 L386.56 1673 L434.07 1661.3 L481.59 1626.5 L529.1 1634.9" fill="none" stroke="#3c3c3c" stroke-width="1.15"/>
<path d="M434.07 1655.3 V1667.3 M429.07 1655.3 H439.07 M429.07 1667.3 H439.07" fill="none" stroke="#3c3c3c" stroke-width="1.15"/>
<circle cx="196.5" cy="1690.4" r="4.4" fill="#000"/>
<circle cx="244.01" cy="1690.4" r="4.4" fill="#000"/>
<circle cx="291.53" cy="1690.4" r="4.4" fill="#000"/>
<circle cx="339.04" cy="1690.4" r="4.4" fill="#000"/>
<circle cx="386.56" cy="1673" r="4.4" fill="#000"/>
<circle cx="434.07" cy="1661.3" r="4.4" fill="#000"/>
<circle cx="481.59" cy="1626.5" r="4.4" fill="#000"/>
<circle cx="529.1" cy="1634.9" r="4.4" fill="#000"/>
<path d="M196.5 1690.4 L244.01 1689.7 L291.53 1688.4 L339.04 1686 L386.56 1616.5 L434.07 1479.4 L481.59 1600.5 L529.1 1682" fill="none" stroke="#3c3c3c" stroke-width="1.15"/>
<path d="M434.07 1456.7 V1502.8 M429.07 1456.7 H439.07 M429.07 1502.8 H439.07" fill="none" stroke="#3c3c3c" stroke-width="1.15"/>
<path d="M481.59 1593.8 V1607.2 M476.59 1593.8 H486.59 M476.59 1607.2 H486.59" fill="none" stroke="#3c3c3c" stroke-width="1.15"/>
<circle cx="196.5" cy="1690.4" r="4.2" fill="#fff" stroke="#3c3c3c" stroke-width="1.4"/>
<circle cx="244.01" cy="1689.7" r="4.2" fill="#fff" stroke="#3c3c3c" stroke-width="1.4"/>
<circle cx="291.53" cy="1688.4" r="4.2" fill="#fff" stroke="#3c3c3c" stroke-width="1.4"/>
<circle cx="339.04" cy="1686" r="4.2" fill="#fff" stroke="#3c3c3c" stroke-width="1.4"/>
<circle cx="386.56" cy="1616.5" r="4.2" fill="#fff" stroke="#3c3c3c" stroke-width="1.4"/>
<circle cx="434.07" cy="1479.4" r="4.2" fill="#fff" stroke="#3c3c3c" stroke-width="1.4"/>
<circle cx="481.59" cy="1600.5" r="4.2" fill="#fff" stroke="#3c3c3c" stroke-width="1.4"/>
<circle cx="529.1" cy="1682" r="4.2" fill="#fff" stroke="#3c3c3c" stroke-width="1.4"/>
</g>
<g>
<path d="M645.3 1417.6 V1743.9 H1081.6" fill="none" stroke="#3c3c3c" stroke-width="1.3499999999999999"/>
<path d="M645.3 1418.6 H640.3 M645.3 1485.05 H640.3 M645.3 1551.5 H640.3 M645.3 1617.95 H640.3 M645.3 1684.4 H640.3 M696.1 1743.9 V1748.9 M747.3 1743.9 V1748.9 M798.5 1743.9 V1748.9 M849.7 1743.9 V1748.9 M900.9 1743.9 V1748.9 M952.1 1743.9 V1748.9 M1003.3 1743.9 V1748.9 M1054.5 1743.9 V1748.9" fill="none" stroke="#3c3c3c" stroke-width="1.15"/>
<g font-size="16.4" fill="#222222" stroke="#222222" stroke-width="0.3" text-anchor="end">
<text x="631.8" y="1423.68">8000</text>
<text x="631.8" y="1490.13">6000</text>
<text x="631.8" y="1556.58">4000</text>
<text x="631.8" y="1623.03">2000</text>
<text x="631.8" y="1689.48">0</text>
</g>
<g font-size="16.4" fill="#222222" stroke="#222222" stroke-width="0.3" text-anchor="middle">
<text x="696.1" y="1773.7">1dpi</text>
<text x="747.3" y="1773.7">2dpi</text>
<text x="798.5" y="1773.7">3dpi</text>
<text x="849.7" y="1773.7">4dpi</text>
<text x="900.9" y="1773.7">5dpi</text>
<text x="952.1" y="1773.7">6dpi</text>
<text x="1003.3" y="1773.7">7dpi</text>
<text x="1054.5" y="1773.7">8dpi</text>
</g>
<text x="841.6" y="1399.2" font-size="41.5" font-style="italic" text-anchor="middle" stroke="#000" stroke-width="0.25" fill="#1a1a1a" font-family='"Liberation Serif", serif'>RdRp</text>
<text transform="translate(587.6 1581.7) rotate(-90)" font-size="36.16" text-anchor="middle" stroke="#000" stroke-width="0.4" fill="#1a1a1a">Gene expression copies</text>
<path d="M664 1432.4 H716.3 M664 1460.3 H716.3" fill="none" stroke="#3c3c3c" stroke-width="1.15"/>
<circle cx="690.3" cy="1432.4" r="4.4" fill="#000"/>
<circle cx="690.3" cy="1460.3" r="4.2" fill="#fff" stroke="#3c3c3c" stroke-width="1.4"/>
<text x="730.7" y="1439.7" font-size="22.7" stroke="#000" stroke-width="0.4" fill="#1a1a1a" textLength="128.5" lengthAdjust="spacing">AHK+TSWV</text>
<text x="730.7" y="1467.6" font-size="22.7" stroke="#000" stroke-width="0.4" fill="#1a1a1a">CK</text>
<path d="M696.1 1684.7 L747.3 1684.7 L798.5 1684.7 L849.7 1684.7 L900.9 1683.4 L952.1 1679 L1003.3 1651.3 L1054.5 1669.7" fill="none" stroke="#3c3c3c" stroke-width="1.15"/>
<path d="M1003.3 1647.8 V1654.8 M998.3 1647.8 H1008.3 M998.3 1654.8 H1008.3" fill="none" stroke="#3c3c3c" stroke-width="1.15"/>
<circle cx="696.1" cy="1684.7" r="4.4" fill="#000"/>
<circle cx="747.3" cy="1684.7" r="4.4" fill="#000"/>
<circle cx="798.5" cy="1684.7" r="4.4" fill="#000"/>
<circle cx="849.7" cy="1684.7" r="4.4" fill="#000"/>
<circle cx="900.9" cy="1683.4" r="4.4" fill="#000"/>
<circle cx="952.1" cy="1679" r="4.4" fill="#000"/>
<circle cx="1003.3" cy="1651.3" r="4.4" fill="#000"/>
<circle cx="1054.5" cy="1669.7" r="4.4" fill="#000"/>
<path d="M696.1 1684.4 L747.3 1684.4 L798.5 1684.4 L849.7 1683.7 L900.9 1667.3 L952.1 1462.7 L1003.3 1598.8 L1054.5 1676.4" fill="none" stroke="#3c3c3c" stroke-width="1.15"/>
<path d="M952.1 1443.3 V1481.8 M947.1 1443.3 H957.1 M947.1 1481.8 H957.1" fill="none" stroke="#3c3c3c" stroke-width="1.15"/>
<path d="M1003.3 1574.4 V1622.2 M998.3 1574.4 H1008.3 M998.3 1622.2 H1008.3" fill="none" stroke="#3c3c3c" stroke-width="1.15"/>
<circle cx="696.1" cy="1684.4" r="4.2" fill="#fff" stroke="#3c3c3c" stroke-width="1.4"/>
<circle cx="747.3" cy="1684.4" r="4.2" fill="#fff" stroke="#3c3c3c" stroke-width="1.4"/>
<circle cx="798.5" cy="1684.4" r="4.2" fill="#fff" stroke="#3c3c3c" stroke-width="1.4"/>
<circle cx="849.7" cy="1683.7" r="4.2" fill="#fff" stroke="#3c3c3c" stroke-width="1.4"/>
<circle cx="900.9" cy="1667.3" r="4.2" fill="#fff" stroke="#3c3c3c" stroke-width="1.4"/>
<circle cx="952.1" cy="1462.7" r="4.2" fill="#fff" stroke="#3c3c3c" stroke-width="1.4"/>
<circle cx="1003.3" cy="1598.8" r="4.2" fill="#fff" stroke="#3c3c3c" stroke-width="1.4"/>
<circle cx="1054.5" cy="1676.4" r="4.2" fill="#fff" stroke="#3c3c3c" stroke-width="1.4"/>
</g>
</g>
</svg>
</body>
</html>
